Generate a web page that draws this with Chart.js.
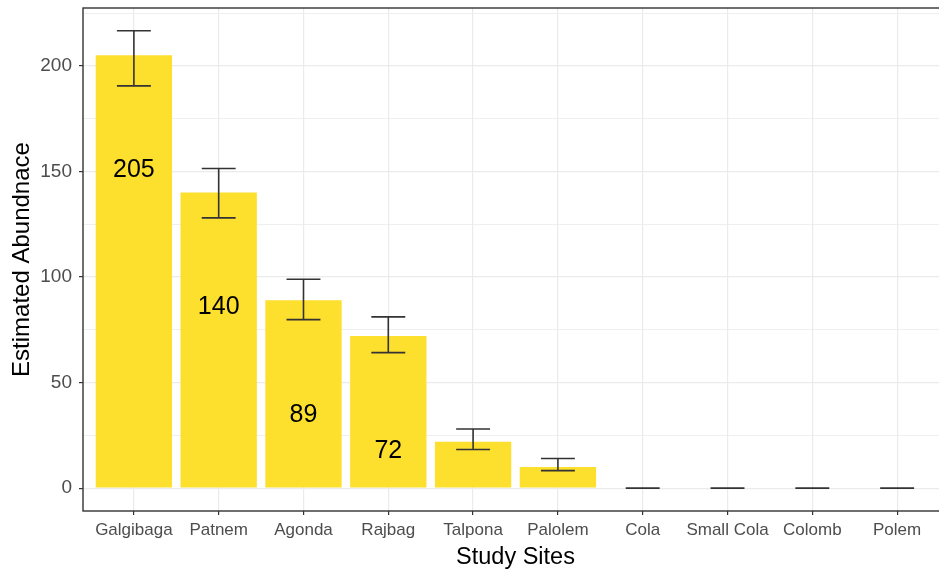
<!DOCTYPE html>
<html>
<head>
<meta charset="utf-8">
<script src="https://cdn.jsdelivr.net/npm/chart.js@4"></script>
<style>
  html, body { margin: 0; padding: 0; background: #fff; overflow: hidden; width: 939px; height: 570px; }
  #wrap { width: 939px; height: 570px; overflow: hidden; }
  canvas { display: block; }
</style>
</head>
<body>
<div id="wrap"><canvas id="c" width="948" height="570"></canvas></div>
<script>
// Study sites and estimated abundance with error-bar limits
const sites = ['Galgibaga', 'Patnem', 'Agonda', 'Rajbag', 'Talpona', 'Palolem', 'Cola', 'Small Cola', 'Colomb', 'Polem'];
const abundance = [205, 140, 89, 72, 22, 10, 0, 0, 0, 0];
const lowerLimit = [190.5, 128, 79.8, 64.2, 18.3, 8.3, 0, 0, 0, 0];
const upperLimit = [216.6, 151.4, 98.9, 81.1, 28, 14, 0, 0, 0, 0];
const yMajorTicks = [0, 50, 100, 150, 200];
const yMinorTicks = [25, 75, 125, 175, 225];

const labelDrop = 54.5;    // value labels sit this far below the bar top
const capHalfWidth = 0.2;  // error-bar cap half width in category units

const barColor = '#FDDF2E';
const inkColor = '#333333';
const gridColor = '#EBEBEB';
const fontFamily = '"Liberation Sans", Arial, sans-serif';

const points = sites.map((s, i) => ({ x: i + 1, y: abundance[i] }));

const errorBars = {
  id: 'errorBars',
  afterDatasetsDraw(chart) {
    const { ctx, scales: { x, y } } = chart;
    ctx.save();
    ctx.strokeStyle = inkColor;
    ctx.lineWidth = 1.6;
    sites.forEach((s, i) => {
      const cx = x.getPixelForValue(i + 1);
      const x0 = x.getPixelForValue(i + 1 - capHalfWidth);
      const x1 = x.getPixelForValue(i + 1 + capHalfWidth);
      const yl = y.getPixelForValue(lowerLimit[i]);
      const yu = y.getPixelForValue(upperLimit[i]);
      ctx.beginPath();
      ctx.moveTo(x0, yu); ctx.lineTo(x1, yu);
      ctx.moveTo(x0, yl); ctx.lineTo(x1, yl);
      ctx.moveTo(cx, yu); ctx.lineTo(cx, yl);
      ctx.stroke();
    });
    // value labels inside the tall bars
    ctx.fillStyle = '#000';
    ctx.font = '25px ' + fontFamily;
    ctx.textAlign = 'center';
    ctx.textBaseline = 'middle';
    abundance.forEach((v, i) => {
      if (v - labelDrop > 0) {
        ctx.fillText(String(v), x.getPixelForValue(i + 1), y.getPixelForValue(v - labelDrop));
      }
    });
    ctx.restore();
  }
};

const panelBorder = {
  id: 'panelBorder',
  afterDraw(chart) {
    const { ctx, chartArea: a } = chart;
    ctx.save();
    ctx.strokeStyle = inkColor;
    ctx.lineWidth = 1.4;
    ctx.strokeRect(a.left, a.top, a.right - a.left, a.bottom - a.top);
    ctx.restore();
  }
};

new Chart(document.getElementById('c'), {
  type: 'bar',
  data: {
    datasets: [{
      data: points,
      backgroundColor: barColor,
      borderWidth: 0,
      categoryPercentage: 1,
      barPercentage: 0.9
    }]
  },
  options: {
    responsive: false,
    animation: false,
    layout: { padding: { top: 8, left: 0, right: 0, bottom: 0 } },
    plugins: { legend: { display: false }, tooltip: { enabled: false } },
    scales: {
      x: {
        type: 'linear',
        min: 0.4,
        max: 10.6,
        offset: false,
        afterBuildTicks(scale) {
          scale.ticks = sites.map((s, i) => ({ value: i + 1 }));
        },
        afterFit(scale) {
          scale.height = 59;
          scale.paddingLeft = 0;
          scale.paddingRight = 0;
        },
        ticks: {
          autoSkip: false,
          maxRotation: 0,
          padding: 5,
          color: '#4D4D4D',
          font: { family: fontFamily, size: 17 },
          callback: (v) => sites[Math.round(v) - 1]
        },
        grid: { offset: false, color: gridColor, lineWidth: 1.2, tickColor: inkColor, tickLength: 4, drawTicks: true },
        border: { display: false },
        title: {
          display: true,
          text: 'Study Sites',
          color: '#000',
          font: { family: fontFamily, size: 23.5, lineHeight: 1 },
          padding: { top: 0, bottom: 1 }
        }
      },
      y: {
        min: -10.83,
        max: 227.4,
        afterBuildTicks(scale) {
          scale.ticks = yMajorTicks.concat(yMinorTicks).sort((a, b) => a - b).map(v => ({ value: v }));
        },
        afterFit(scale) {
          scale.width = 83;
          scale.paddingTop = 0;
          scale.paddingBottom = 0;
        },
        ticks: {
          padding: 7,
          color: '#4D4D4D',
          font: { family: fontFamily, size: 19 },
          callback: (v) => (yMajorTicks.includes(v) ? String(v) : '')
        },
        grid: {
          color: gridColor,
          lineWidth: (ctx) => (ctx.tick && yMajorTicks.includes(ctx.tick.value) ? 1.2 : 0.8),
          tickColor: (ctx) => (ctx.tick && yMajorTicks.includes(ctx.tick.value) ? inkColor : 'rgba(0,0,0,0)'),
          tickLength: 4
        },
        border: { display: false },
        title: {
          display: true,
          text: 'Estimated Abundnace',
          color: '#000',
          font: { family: fontFamily, size: 24, lineHeight: 1 },
          padding: { top: 10, bottom: 0 }
        }
      }
    }
  },
  plugins: [errorBars, panelBorder]
});
</script>
</body>
</html>
